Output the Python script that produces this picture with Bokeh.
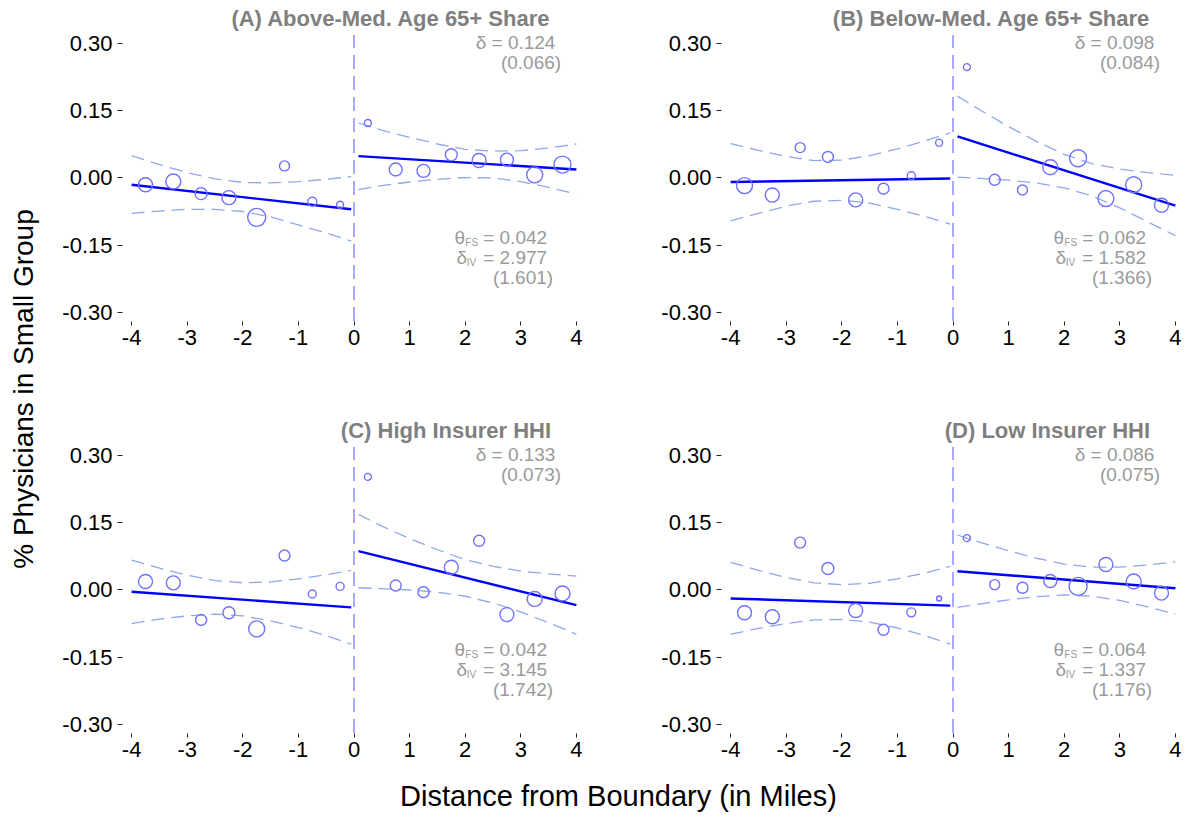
from math import pi
from bokeh.plotting import figure
from bokeh.layouts import row, column
from bokeh.models import Range1d, FixedTicker, NumeralTickFormatter
from bokeh.core.properties import value
from bokeh.embed import file_html
from bokeh.resources import INLINE

FONT = "Liberation Sans"

# ---------------- data ----------------
dist_left = [-3.75, -3.25, -2.75, -2.25, -1.75, -1.25, -0.75, -0.25]
dist_right = [0.25, 0.75, 1.25, 1.75, 2.25, 2.75, 3.25, 3.75]
grid_left = [-4.0, -3.5, -3.0, -2.5, -2.0, -1.5, -1.0, -0.5, -0.05]
grid_right = [0.08, 0.5, 1.0, 1.5, 2.0, 2.5, 3.0, 3.5, 4.0]
fit_x_left = [-4.0, -0.05]
fit_x_right = [0.08, 4.0]
x_ticks = [-4, -3, -2, -1, 0, 1, 2, 3, 4]
y_ticks = [-0.30, -0.15, 0.0, 0.15, 0.30]

# Panel A
A_title = "(A) Above-Med. Age 65+ Share"
A_left_y = [-0.015, -0.008, -0.035, -0.044, -0.088, 0.027, -0.053, -0.060]
A_right_y = [0.123, 0.019, 0.016, 0.052, 0.039, 0.041, 0.007, 0.030]
A_left_w = [14, 15, 12, 14, 18, 10, 9, 7]
A_right_w = [7, 13, 13, 12, 14, 13, 16, 17]
A_fit_left = [-0.015, -0.070]
A_fit_right = [0.049, 0.019]
A_ci_left_hi = [0.050, 0.030, 0.012, -0.002, -0.010, -0.011, -0.008, -0.003, 0.003]
A_ci_left_lo = [-0.079, -0.074, -0.070, -0.070, -0.075, -0.087, -0.105, -0.123, -0.141]
A_ci_right_hi = [0.123, 0.107, 0.091, 0.076, 0.064, 0.060, 0.061, 0.067, 0.076]
A_ci_right_lo = [-0.026, -0.017, -0.009, -0.003, 0.001, 0.000, -0.008, -0.021, -0.036]
A_stats = ["0.124", "(0.066)", "0.042", "2.977", "(1.601)"]

# Panel B
B_title = "(B) Below-Med. Age 65+ Share"
B_left_y = [-0.017, -0.038, 0.068, 0.047, -0.049, -0.024, 0.005, 0.079]
B_right_y = [0.248, -0.004, -0.027, 0.024, 0.044, -0.046, -0.015, -0.061]
B_left_w = [16, 14, 10, 11, 14, 11, 8, 7]
B_right_w = [7, 11, 10, 15, 17, 16, 16, 14]
B_fit_left = [-0.009, -0.001]
B_fit_right = [0.093, -0.062]
B_ci_left_hi = [0.077, 0.062, 0.048, 0.039, 0.040, 0.050, 0.065, 0.083, 0.101]
B_ci_left_lo = [-0.096, -0.079, -0.063, -0.052, -0.050, -0.056, -0.070, -0.086, -0.103]
B_ci_right_hi = [0.183, 0.151, 0.115, 0.082, 0.053, 0.032, 0.020, 0.012, 0.006]
B_ci_right_lo = [0.002, -0.001, -0.005, -0.011, -0.022, -0.040, -0.067, -0.098, -0.129]
B_stats = ["0.098", "(0.084)", "0.062", "1.582", "(1.366)"]

# Panel C
C_title = "(C) High Insurer HHI"
C_left_y = [0.019, 0.016, -0.067, -0.051, -0.087, 0.077, -0.009, 0.008]
C_right_y = [0.253, 0.010, -0.005, 0.051, 0.110, -0.055, -0.020, -0.008]
C_left_w = [14, 14, 11, 12, 16, 11, 8, 8]
C_right_w = [7, 11, 11, 14, 11, 14, 15, 15]
C_fit_left = [-0.004, -0.039]
C_fit_right = [0.087, -0.034]
C_ci_left_hi = [0.067, 0.049, 0.033, 0.021, 0.016, 0.018, 0.025, 0.034, 0.044]
C_ci_left_lo = [-0.075, -0.065, -0.058, -0.054, -0.058, -0.069, -0.084, -0.102, -0.121]
C_ci_right_hi = [0.169, 0.143, 0.115, 0.090, 0.068, 0.053, 0.042, 0.036, 0.031]
C_ci_right_lo = [0.005, 0.003, 0.000, -0.005, -0.014, -0.029, -0.049, -0.073, -0.099]
C_stats = ["0.133", "(0.073)", "0.042", "3.145", "(1.742)"]

# Panel D
D_title = "(D) Low Insurer HHI"
D_left_y = [-0.051, -0.060, 0.106, 0.048, -0.046, -0.089, -0.050, -0.019]
D_right_y = [0.116, 0.012, 0.005, 0.020, 0.008, 0.057, 0.019, -0.007]
D_left_w = [14, 14, 11, 12, 14, 11, 9, 5]
D_right_w = [7, 10, 11, 13, 18, 14, 15, 14]
D_fit_left = [-0.019, -0.035]
D_fit_right = [0.042, 0.004]
D_ci_left_hi = [0.062, 0.044, 0.028, 0.016, 0.012, 0.015, 0.025, 0.038, 0.053]
D_ci_left_lo = [-0.099, -0.086, -0.075, -0.067, -0.066, -0.072, -0.085, -0.102, -0.121]
D_ci_right_hi = [0.123, 0.106, 0.088, 0.071, 0.058, 0.051, 0.051, 0.056, 0.063]
D_ci_right_lo = [-0.039, -0.031, -0.022, -0.015, -0.011, -0.014, -0.023, -0.038, -0.054]
D_stats = ["0.086", "(0.075)", "0.064", "1.337", "(1.176)"]

y_label = "% Physicians in Small Group"
x_label = "Distance from Boundary (in Miles)"

# ---------------- styles ----------------
C_POINT = "#7070FF"
C_FIT = "#0000FF"
C_CI = "#8EA8EA"
C_VLINE = "#A8A8FF"
C_TITLE = "#7F7F7F"
C_STAT = "#9A9A9A"


def panel(title, ly, ry, lw, rw, fl, fr, clh, cll, crh, crl, stats,
          width, border_right, height, border_bottom):
    p = figure(width=width, height=height,
               x_range=Range1d(-4.164, 4.164), y_range=Range1d(-0.321, 0.397),
               output_backend="svg", toolbar_location=None,
               min_border_left=74, min_border_right=border_right,
               min_border_top=0, min_border_bottom=border_bottom)
    p.outline_line_color = None
    p.grid.visible = False
    p.background_fill_color = "white"
    p.border_fill_color = "white"

    for ax in (p.xaxis[0], p.yaxis[0]):
        ax.axis_line_color = None
        ax.major_tick_in = 0
        ax.major_tick_line_color = "#222222"
        ax.major_tick_line_width = 1
        ax.minor_tick_line_color = None
        ax.major_label_text_font = FONT
        ax.major_label_text_font_size = "22px"
        ax.major_label_text_color = "black"
    p.xaxis.ticker = FixedTicker(ticks=x_ticks)
    p.xaxis.formatter = NumeralTickFormatter(format="0")
    p.xaxis.major_tick_out = 4
    p.xaxis.major_label_standoff = 4
    p.yaxis.ticker = FixedTicker(ticks=y_ticks)
    p.yaxis.formatter = NumeralTickFormatter(format="0.00")
    p.yaxis.major_tick_out = 5
    p.yaxis.major_label_standoff = 5

    # boundary line
    p.segment(x0=[0], y0=[-0.32], x1=[0], y1=[0.32], line_color=C_VLINE,
              line_width=2, line_dash="14 7")
    # confidence bands
    for xs, ys in ((grid_left, clh), (grid_left, cll), (grid_right, crh), (grid_right, crl)):
        p.line(xs, ys, line_color=C_CI, line_width=1.3, line_dash="13 7")
    # fitted lines
    p.line(fit_x_left, fl, line_color=C_FIT, line_width=2.4)
    p.line(fit_x_right, fr, line_color=C_FIT, line_width=2.4)
    # binned means
    p.scatter(dist_left, ly, size=lw, marker="circle", fill_color=None,
              line_color=C_POINT, line_width=1.4)
    p.scatter(dist_right, ry, size=rw, marker="circle", fill_color=None,
              line_color=C_POINT, line_width=1.4)

    f = value(FONT)
    p.text(x=[3.545], y=[0.356], text=[title], text_font=f, text_font_size="22px",
           text_font_style="bold", text_color=C_TITLE, text_align="right",
           text_baseline="middle")
    p.text(x=[3.623, 3.725], y=[0.304, 0.259],
           text=["\u03b4 = " + stats[0], stats[1]], text_font=f,
           text_font_size="19px", text_color=C_STAT, text_align="right",
           text_baseline="middle")
    p.text(x=[3.473, 3.473, 3.581], y=[-0.132, -0.177, -0.222],
           text=["= " + stats[2], "= " + stats[3], stats[4]], text_font=f,
           text_font_size="19px", text_color=C_STAT, text_align="right",
           text_baseline="middle")
    p.text(x=[3.473, 3.473], y=[-0.132, -0.177], text=["\u03b8", "\u03b4"],
           x_offset=[-82, -80], text_font=f, text_font_size="19px",
           text_color=C_STAT, text_align="right", text_baseline="middle")
    p.text(x=[3.473, 3.473], y=[-0.1432, -0.1880], text=["FS", "IV"],
           x_offset=[-69, -71], text_font=f, text_font_size="10px",
           text_color=C_STAT, text_align="right", text_baseline="middle")
    return p


pA = panel(A_title, A_left_y, A_right_y, A_left_w, A_right_w, A_fit_left, A_fit_right,
           A_ci_left_hi, A_ci_left_lo, A_ci_right_hi, A_ci_right_lo, A_stats,
           599, 62, 412, 91)
pB = panel(B_title, B_left_y, B_right_y, B_left_w, B_right_w, B_fit_left, B_fit_right,
           B_ci_left_hi, B_ci_left_lo, B_ci_right_hi, B_ci_right_lo, B_stats,
           537, 0, 412, 91)
pC = panel(C_title, C_left_y, C_right_y, C_left_w, C_right_w, C_fit_left, C_fit_right,
           C_ci_left_hi, C_ci_left_lo, C_ci_right_hi, C_ci_right_lo, C_stats,
           599, 62, 355, 34)
pD = panel(D_title, D_left_y, D_right_y, D_left_w, D_right_w, D_fit_left, D_fit_right,
           D_ci_left_hi, D_ci_left_lo, D_ci_right_hi, D_ci_right_lo, D_stats,
           537, 0, 355, 34)


def blank(width, height):
    q = figure(width=width, height=height, x_range=Range1d(0, width),
               y_range=Range1d(0, height), x_axis_type=None, y_axis_type=None,
               output_backend="svg", toolbar_location=None,
               min_border=0, min_border_left=0, min_border_right=0,
               min_border_top=0, min_border_bottom=0)
    q.outline_line_color = None
    q.grid.visible = False
    return q


STRIP_H = 412 + 355 + 52
ylab = blank(48, STRIP_H)
ylab.text(x=[23], y=[STRIP_H - 388.5], text=[y_label], text_font=value(FONT),
          text_font_size="28px", text_color="black", text_align="center",
          text_baseline="middle", angle=pi / 2)

xlab = blank(599 + 537, 52)
xlab.text(x=[570], y=[24], text=[x_label], text_font=value(FONT),
          text_font_size="29px", text_color="black", text_align="center",
          text_baseline="middle")

layout = row(ylab, column(row(pA, pB), row(pC, pD), xlab))

open("out.html", "w").write(file_html(layout, INLINE, "chart"))
